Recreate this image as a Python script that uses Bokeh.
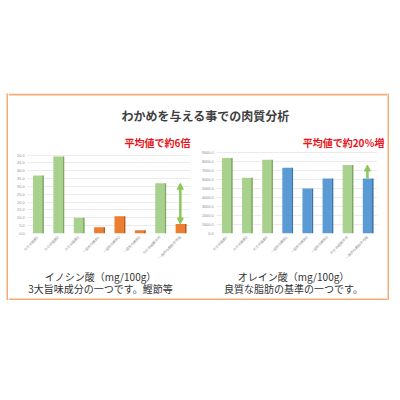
from math import pi
from bokeh.plotting import figure
from bokeh.models import (ColumnDataSource, Range1d, FactorRange, FixedTicker, Label, Span,
                          Arrow, NormalHead, NumeralTickFormatter)
from bokeh.layouts import column, row
from bokeh.transform import dodge, factor_cmap
from bokeh.embed import file_html
from bokeh.resources import INLINE

# ---------------- data ----------------
categories = ["わかめ給餌1", "わかめ給餌2", "わかめ給餌3",
              "一般的な飼料1", "一般的な飼料2", "一般的な飼料3",
              "わかめ給餌平均", "一般的な飼料平均値"]
groups = ["わかめ", "わかめ", "わかめ", "一般", "一般", "一般", "わかめ", "一般"]
group_names = ["わかめ", "一般"]
inosinic = [37.0, 49.0, 10.0, 4.0, 11.0, 2.0, 32.0, 6.0]
oleic = [8400, 6200, 8200, 7300, 5000, 6100, 7600, 6100]
inosinic_ticks = [0, 5, 10, 15, 20, 25, 30, 35, 40, 45, 50]
oleic_ticks = [0, 1000, 2000, 3000, 4000, 5000, 6000, 7000, 8000, 9000]

title_text = "わかめを与える事での肉質分析"
left_note = "平均値で約6倍"
right_note = "平均値で約20％増"
left_caption = ["イノシン酸（mg/100g）", "3大旨味成分の一つです。鰹節等"]
right_caption = ["オレイン酸（mg/100g）", "良質な脂肪の基準の一つです。"]

JP = "Noto Sans CJK JP"
GREEN, GREEN_D = "#A9D18E", "#7EA862"
ORANGE, ORANGE_D = "#ED7D31", "#B9591C"
BLUE, BLUE_D = "#5B9BD5", "#3D74A8"
ARROW_C = "#8CC75A"
FRAME_C = "#F2AC78"
RED = "#E8141B"


def plain(width, height, fill="white"):
    f = figure(width=width, height=height, x_range=Range1d(0, width), y_range=Range1d(0, height),
               output_backend="svg", toolbar_location=None, min_border=0,
               x_axis_location=None, y_axis_location=None, outline_line_color=None,
               background_fill_color=fill, border_fill_color=fill)
    f.grid.visible = False
    return f


def chart(values, ticks, y_end, front, side, width, bl, br, both_heads):
    src = ColumnDataSource(dict(cat=categories, val=values, grp=groups))
    p = figure(x_range=FactorRange(*categories), y_range=Range1d(0, y_end),
               width=width, height=116, output_backend="svg", toolbar_location=None,
               min_border_left=bl, min_border_right=br, min_border_top=0,
               min_border_bottom=33, outline_line_color=None,
               background_fill_color="white", border_fill_color="white")
    p.vbar(x=dodge("cat", 0.26, range=p.x_range), top="val", width=0.09, source=src,
           fill_color=factor_cmap("grp", side, group_names), line_color=None)
    p.vbar(x="cat", top="val", width=0.46, source=src,
           fill_color=factor_cmap("grp", front, group_names), line_color=None)
    p.xgrid.visible = False
    p.ygrid.ticker = FixedTicker(ticks=ticks)
    p.ygrid.grid_line_color = "#dedede"
    p.ygrid.grid_line_width = 0.6
    p.yaxis.ticker = FixedTicker(ticks=ticks)
    p.yaxis.formatter = NumeralTickFormatter(format="0.0")
    for ax in (p.xaxis, p.yaxis):
        ax.axis_line_color = None
        ax.major_tick_line_color = None
        ax.minor_tick_line_color = None
        ax.major_tick_out = 0
        ax.major_tick_in = 0
        ax.major_label_text_color = "#8c8c8c"
        ax.major_label_standoff = 3
    p.yaxis.major_label_text_font_size = "3.8px"
    p.xaxis.major_label_text_font_size = "3.4px"
    p.xaxis.major_label_text_font = JP
    p.xaxis.major_label_orientation = pi / 4
    asrc = ColumnDataSource(dict(xs=[categories[7]], ys=[values[6]], ye=[values[7]]))
    head = NormalHead(size=6, fill_color=ARROW_C, line_color=ARROW_C)
    if both_heads:
        start = NormalHead(size=6, fill_color=ARROW_C, line_color=ARROW_C)
        arr = Arrow(x_start="xs", y_start="ys", x_end="xs", y_end="ye", source=asrc,
                    start=start, end=head, line_color=ARROW_C, line_width=2.5)
    else:
        arr = Arrow(x_start="xs", y_start="ye", x_end="xs", y_end="ys", source=asrc,
                    start=None, end=head, line_color=ARROW_C, line_width=2.5)
    p.add_layout(arr)
    return p


left = chart(inosinic, inosinic_ticks, 52.9, [GREEN, ORANGE], [GREEN_D, ORANGE_D],
             190, 19, 8, True)
right = chart(oleic, oleic_ticks, 9220, [GREEN, BLUE], [GREEN_D, BLUE_D],
              189, 18, 10, False)

hdr = plain(379, 57)
hdr.add_layout(Span(location=56, dimension="width", line_color=FRAME_C, line_width=2))
hdr.add_layout(Label(x=197, y=35, x_units="screen", y_units="screen", text=title_text,
                     text_font=JP, text_font_style="bold", text_font_size="12px",
                     text_color="#3F3F3F", text_align="center", text_baseline="middle"))
for nx, note in ((182, left_note), (376, right_note)):
    hdr.add_layout(Label(x=nx, y=8, x_units="screen", y_units="screen", text=note,
                         text_font=JP, text_font_style="bold", text_font_size="10px",
                         text_color=RED, text_align="right", text_baseline="middle"))

cap = plain(379, 34)
cap.add_layout(Span(location=1, dimension="width", line_color=FRAME_C, line_width=2))
for cx, lines in ((92, left_caption), (285, right_caption)):
    for ly, t in zip((24, 12), lines):
        cap.add_layout(Label(x=cx, y=ly, x_units="screen", y_units="screen", text=t,
                             text_font=JP, text_font_size="10px", text_color="#333333",
                             text_align="center", text_baseline="middle"))

inner = column(hdr, row(left, right), cap)
boxed = row(plain(6, 207), plain(2, 207, FRAME_C), inner, plain(2, 207, FRAME_C))
page = column(plain(389, 93), boxed)

open("out.html", "w").write(file_html(page, INLINE))
